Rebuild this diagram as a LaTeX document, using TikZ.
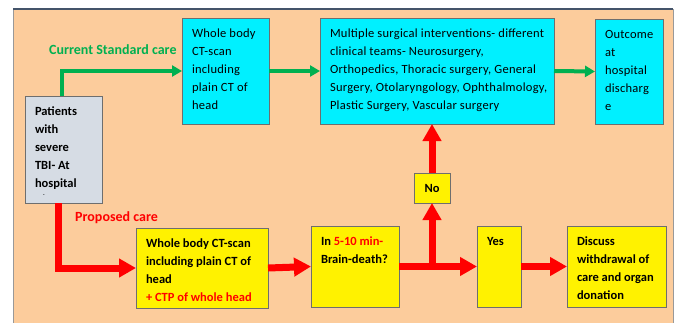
\documentclass[tikz,border=0pt]{standalone}
\usepackage{fontspec}
\setmainfont{Carlito}
\usetikzlibrary{arrows.meta}

\definecolor{peach}{RGB}{252,204,156}
\definecolor{boxcyan}{RGB}{0,240,255}
\definecolor{boxgrey}{RGB}{214,220,228}
\definecolor{boxline}{RGB}{110,110,110}
\definecolor{greenline}{RGB}{0,176,80}
\definecolor{redline}{RGB}{255,0,0}
\definecolor{frameline}{RGB}{68,84,106}

% text block of given width and height, set from the top
\newcommand{\boxtext}[3]{\parbox[c][#2][t]{#1}{\raggedright\fontsize{12.5}{18}\selectfont\rule{0pt}{14.5pt}#3}}

\begin{document}
\begin{tikzpicture}[x=1pt, y=-1pt,
  box/.style={draw=boxline, line width=0.8pt, anchor=north west, inner xsep=10pt, inner ysep=5pt, outer sep=0pt},
  label/.style={anchor=base west, inner sep=0pt, font=\bfseries\fontsize{14}{16}\selectfont},
  greenarrow/.style={draw=greenline, line width=4pt, -{Triangle[length=10pt, width=11pt]}},
  redarrow/.style={draw=redline, line width=7pt, -{Triangle[length=17pt, width=18pt]}}]
  \useasboundingbox (0,0) rectangle (675,322);
  \fill[white] (0,0) rectangle (675,322);
  \filldraw[fill=peach, draw=gray!80, line width=0.8pt] (13,9) rectangle (673,323);
  \draw[frameline, line width=1.2pt] (13,9) -- (673,9);

  % start
  \node[box, fill=boxgrey] (pat) at (25,96) {\boxtext{57pt}{97pt}{\bfseries Patients\\ with\\ severe\\ TBI- At\\ hospital\\[-9pt]\hspace*{8pt}{\tiny -}}};

  % current standard care
  \node[box, fill=boxcyan] (ct) at (182,18) {\boxtext{67pt}{96pt}{\addfontfeature{LetterSpace=2}Whole body\\ CT-scan\\ including\\ plain CT of\\ head}};
  \node[box, fill=boxcyan] (multi) at (320,18) {\boxtext{214pt}{96pt}{\addfontfeature{LetterSpace=2.2}\mbox{Multiple surgical interventions- different}\\ \mbox{clinical teams- Neurosurgery,}\\ \mbox{Orthopedics, Thoracic surgery, General}\\ \mbox{Surgery, Otolaryngology, Ophthalmology,}\\ \mbox{Plastic Surgery, Vascular surgery}}};
  \node[box, fill=boxcyan] (out) at (595,19) {\boxtext{48pt}{95pt}{\addfontfeature{LetterSpace=2}Outcome\\ at\\ hospital\\ discharg\\ e}};

  % proposed care
  \node[box, fill=yellow] (pro) at (136,228) {\boxtext{112pt}{70pt}{\bfseries Whole body CT-scan\\ including plain CT of\\ head\\ \textcolor{redline}{+ CTP of whole head}}};
  \node[box, fill=yellow] (brain) at (311,226) {\boxtext{68pt}{71pt}{\bfseries In \textcolor{redline}{5-10 min-}\\ Brain-death?}};
  \node[box, fill=yellow, inner sep=0pt, minimum width=36pt, minimum height=30pt, font=\bfseries\fontsize{12.5}{15}\selectfont] (no) at (414,173) {No};
  \node[box, fill=yellow] (yes) at (477,226) {\boxtext{24pt}{71pt}{\bfseries Yes}};
  \node[box, fill=yellow] (disc) at (567,226) {\boxtext{79pt}{71pt}{\bfseries Discuss\\ withdrawal of\\ care and organ\\ donation}};

  % labels
  \node[label, text=greenline] (curlabel) at (49,54) {Current Standard care};
  \node[label, text=redline] (prolabel) at (75,221) {Proposed care};

  \coordinate (j) at (no.south |- brain.east);

  \draw[greenarrow] ([xshift=-2pt]pat.north) |- (ct.west);
  \draw[greenarrow] (ct.east) -- (multi.west);
  \draw[greenarrow] (multi.east) -- (out.west);

  \draw[redarrow] ([xshift=-5pt]pat.south) |- (pro.west);
  \draw[redarrow] (pro.east) -- (brain.west);
  \draw[redarrow] (brain.east) -- (yes.west);
  \draw[redarrow] (j) -- (no.south);
  \draw[redarrow] (no.north) -- (no.north |- multi.south);
  \draw[redarrow] (yes.east) -- (disc.west);
\end{tikzpicture}
\end{document}
